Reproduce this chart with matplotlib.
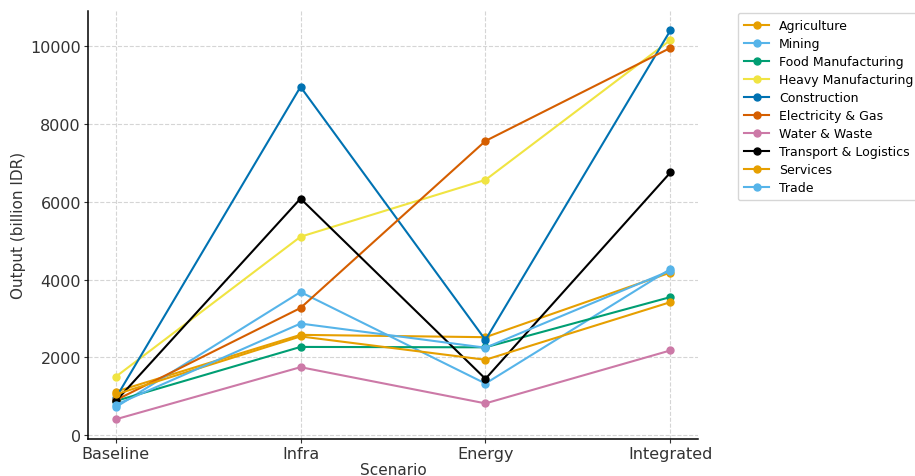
import matplotlib
matplotlib.use("Agg")
import matplotlib.pyplot as plt

scenarios = ["Baseline", "Infra", "Energy", "Integrated"]

agriculture = [1120, 2580, 2520, 4180]
mining = [720, 3680, 1330, 4270]
food_manufacturing = [880, 2270, 2260, 3550]
heavy_manufacturing = [1500, 5100, 6560, 10150]
construction = [950, 8950, 2450, 10400]
electricity_gas = [900, 3270, 7560, 9950]
water_waste = [410, 1750, 820, 2180]
transport_logistics = [870, 6080, 1450, 6750]
services = [1050, 2540, 1940, 3420]
trade = [780, 2870, 2250, 4230]

sectors = [
    ("Agriculture", agriculture, "#E69F00"),
    ("Mining", mining, "#56B4E9"),
    ("Food Manufacturing", food_manufacturing, "#009E73"),
    ("Heavy Manufacturing", heavy_manufacturing, "#F0E442"),
    ("Construction", construction, "#0072B2"),
    ("Electricity & Gas", electricity_gas, "#D55E00"),
    ("Water & Waste", water_waste, "#CC79A7"),
    ("Transport & Logistics", transport_logistics, "#000000"),
    ("Services", services, "#E69F00"),
    ("Trade", trade, "#56B4E9"),
]

fig = plt.figure(figsize=(9.15, 4.77), dpi=100)
ax = fig.add_axes([0.096, 0.078, 0.667, 0.897])

for name, values, color in sectors:
    ax.plot(scenarios, values, marker="o", markersize=5, linewidth=1.5,
            color=color, label=name)

ax.grid(True, linestyle="--", color="#d5d5d5", linewidth=0.8)
ax.set_axisbelow(True)
for side in ["top", "right"]:
    ax.spines[side].set_visible(False)
for side in ["left", "bottom"]:
    ax.spines[side].set_linewidth(1.1)
ax.tick_params(labelsize=11.5, colors="#333333", length=3, pad=2)
ax.set_xlabel("Scenario", fontsize=11, color="#333333", labelpad=1)
ax.set_ylabel("Output (billion IDR)", fontsize=11, color="#333333", labelpad=3)
ax.set_yticks([0, 2000, 4000, 6000, 8000, 10000])

ax.legend(loc="upper left", bbox_to_anchor=(1.055, 1.01), fontsize=9,
          frameon=True, edgecolor="#cccccc", labelspacing=0.4,
          handlelength=2.0, borderpad=0.5)

fig.savefig("out.png", dpi=100)
